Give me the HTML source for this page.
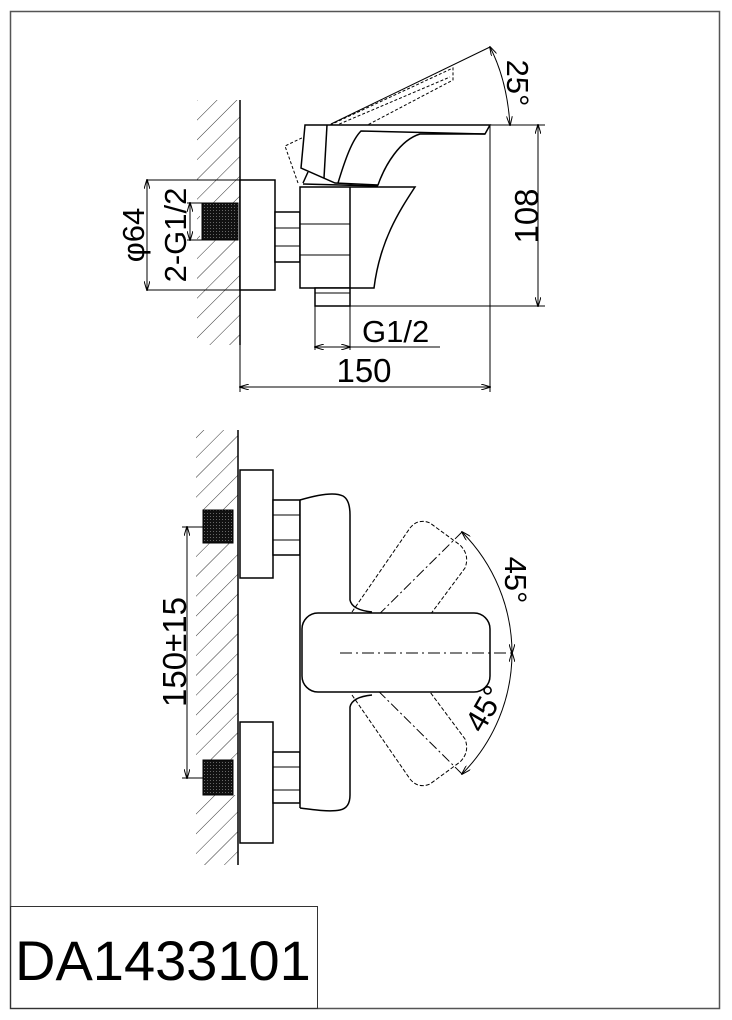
<!DOCTYPE html>
<html><head><meta charset="utf-8"><style>
html,body{margin:0;padding:0;background:#fff;}
svg{display:block;font-family:"Liberation Sans",Arial,sans-serif;}
</style></head><body>
<svg width="732" height="1020" viewBox="0 0 732 1020" xmlns="http://www.w3.org/2000/svg">
<defs>
<pattern id="h" patternUnits="userSpaceOnUse" width="14" height="14" patternTransform="rotate(45)">
<line x1="0" y1="0" x2="0" y2="14" stroke="#333" stroke-width="1"/>
</pattern>
<pattern id="blk" patternUnits="userSpaceOnUse" width="3" height="3">
<rect width="3" height="3" fill="#111"/><rect width="1" height="1" fill="#666"/>
</pattern>
<marker id="a" markerWidth="10" markerHeight="6" refX="9" refY="3" orient="auto-start-reverse" markerUnits="userSpaceOnUse">
<path d="M0,0 L10,3 L0,6" fill="none" stroke="#000" stroke-width="1"/>
</marker>
</defs>
<rect x="10.5" y="11.5" width="709" height="997" fill="none" stroke="#555" stroke-width="1.5"/>
<rect x="10.5" y="906.5" width="307" height="102" fill="none" stroke="#333" stroke-width="1"/>
<text x="15" y="980" font-size="56" fill="#000">DA1433101</text>

<g fill="none" stroke="#000" stroke-width="1.5">
<rect x="197" y="100" width="43" height="245" fill="url(#h)" stroke="none"/>
<rect x="200" y="203" width="40" height="37" fill="#fff" stroke="none"/>
<line x1="240" y1="100" x2="240" y2="345"/>
<rect x="202" y="203" width="36" height="37" fill="url(#blk)" stroke="#000" stroke-width="1"/>
<rect x="240" y="180" width="35" height="110" fill="#fff"/>
<rect x="275" y="212" width="25" height="50" fill="#fff"/>
<line x1="275" y1="228" x2="300" y2="228" stroke-width="1"/>
<line x1="275" y1="246" x2="300" y2="246" stroke-width="1"/>
<path d="M300,187 H415 C400,210 380,240 374,288 H300 Z" fill="#fff"/>
<line x1="350" y1="187" x2="350" y2="288"/>
<line x1="300" y1="224" x2="350" y2="224" stroke-width="1"/>
<line x1="300" y1="255" x2="350" y2="255" stroke-width="1"/>
<rect x="315" y="288" width="35" height="18" fill="#fff"/>
<line x1="315" y1="293" x2="350" y2="293" stroke-width="1"/>
<path d="M298,183 L285,146 L331,124 M330,125 L453,68 L453,80 L320,150" stroke-dasharray="3,2" stroke-width="1"/>
<path d="M330,128 L450,77" stroke-dasharray="3,2" stroke-width="1"/>
<path d="M305,125 H490 L485,134 H420 C400,140 385,165 378,185 L335,183 L301,168 Z" fill="#fff"/>
<line x1="327" y1="125" x2="324" y2="178"/>
<path d="M338,183 C345,160 352,140 361,131 L485,134"/>
<path d="M303,183 L308,172"/>
<line x1="303" y1="184" x2="378" y2="186"/>
<g stroke-width="1">
<line x1="331" y1="124" x2="490" y2="47"/>
<path d="M490,47 Q507,80 510,125" marker-start="url(#a)" marker-end="url(#a)"/>
<line x1="490" y1="125" x2="545" y2="125"/>
<line x1="350" y1="306" x2="545" y2="306"/>
<line x1="538" y1="125" x2="538" y2="306" marker-start="url(#a)" marker-end="url(#a)"/>
<line x1="147" y1="180" x2="240" y2="180"/>
<line x1="147" y1="290" x2="240" y2="290"/>
<line x1="147" y1="180" x2="147" y2="290" marker-start="url(#a)" marker-end="url(#a)"/>
<line x1="187" y1="203" x2="202" y2="203"/>
<line x1="187" y1="240" x2="202" y2="240"/>
<line x1="190" y1="203" x2="190" y2="240" marker-start="url(#a)" marker-end="url(#a)"/>
<line x1="315" y1="306" x2="315" y2="350"/>
<line x1="350" y1="306" x2="350" y2="350"/>
<line x1="315" y1="347" x2="350" y2="347" marker-start="url(#a)" marker-end="url(#a)"/>
<line x1="350" y1="347" x2="440" y2="347"/>
<line x1="240" y1="345" x2="240" y2="392"/>
<line x1="490" y1="125" x2="490" y2="392"/>
<line x1="240" y1="387" x2="490" y2="387" marker-start="url(#a)" marker-end="url(#a)"/>
</g>

<rect x="196" y="430" width="42" height="435" fill="url(#h)" stroke="none"/>
<rect x="195" y="510" width="43" height="33" fill="#fff" stroke="none"/>
<rect x="195" y="760" width="43" height="35" fill="#fff" stroke="none"/>
<line x1="238" y1="430" x2="238" y2="865"/>
<rect x="203" y="510" width="30" height="33" fill="url(#blk)" stroke="#000" stroke-width="1"/>
<rect x="203" y="760" width="30" height="35" fill="url(#blk)" stroke="#000" stroke-width="1"/>
<rect x="240" y="470" width="33" height="108" fill="#fff"/>
<rect x="240" y="722" width="33" height="121" fill="#fff"/>
<rect x="273" y="500" width="27" height="55" fill="#fff"/>
<rect x="273" y="752" width="27" height="51" fill="#fff"/>
<g stroke-width="1">
<line x1="273" y1="515" x2="300" y2="515"/><line x1="273" y1="540" x2="300" y2="540"/>
<line x1="273" y1="767" x2="300" y2="767"/><line x1="273" y1="790" x2="300" y2="790"/>
</g>
<path d="M300,500 V808 C315,810 330,812 340,810 Q350,808 350,795 V707 Q352,697 372,695 L372,612 Q352,610 350,600 V515 Q350,500 343,496 C335,492 320,494 300,500 Z" fill="#fff" stroke="none"/>
<path d="M300,500 V808"/>
<path d="M300,808 C315,810 330,812 340,810 Q350,808 350,795 V707 Q352,697 372,695"/>
<path d="M372,612 Q352,610 350,600 V515 Q350,500 343,496 C335,492 320,494 300,500"/>
<g stroke-dasharray="4,2" stroke-width="1">
<path d="M352,612 L410,528 Q418,518 430,523 L460,545 Q470,555 465,568 L430,615"/>
<path d="M352,695 L410,779 Q418,789 430,784 L460,762 Q470,752 465,739 L430,692"/>
<line x1="340" y1="653" x2="462" y2="532" stroke-dasharray="10,3,2,3"/>
<line x1="340" y1="653" x2="462" y2="774" stroke-dasharray="10,3,2,3"/>
</g>
<rect x="302" y="613" width="188" height="79" rx="16" fill="#fff"/>
<line x1="340" y1="653" x2="515" y2="653" stroke-width="1" stroke-dasharray="12,4,2,4"/>
<g stroke-width="1">
<path d="M462,532 A172,172 0 0,1 512,653" marker-start="url(#a)" marker-end="url(#a)"/>
<path d="M512,653 A172,172 0 0,1 462,774" marker-start="url(#a)" marker-end="url(#a)"/>
<line x1="182" y1="527" x2="203" y2="527"/>
<line x1="182" y1="778" x2="203" y2="778"/>
<line x1="187" y1="527" x2="187" y2="778" marker-start="url(#a)" marker-end="url(#a)"/>
</g>
</g>

<g fill="#000" font-size="33">
<text x="364" y="382" text-anchor="middle">150</text>
<text x="362" y="342" font-size="31">G1/2</text>
<text transform="translate(538,216) rotate(-90)" text-anchor="middle">108</text>
<text transform="translate(507,83) rotate(90)" text-anchor="middle" font-size="31">25°</text>
<text transform="translate(144,235) rotate(-90)" text-anchor="middle" font-size="31">φ64</text>
<text transform="translate(186,235) rotate(-90)" text-anchor="middle" font-size="31">2-G1/2</text>
<text transform="translate(186,652) rotate(-90)" text-anchor="middle">150±15</text>
<text transform="translate(505,580) rotate(90)" text-anchor="middle" font-size="31">45°</text>
<text transform="translate(494,714) rotate(-60)" text-anchor="middle" font-size="31">45°</text>
</g>
</svg>
</body></html>
